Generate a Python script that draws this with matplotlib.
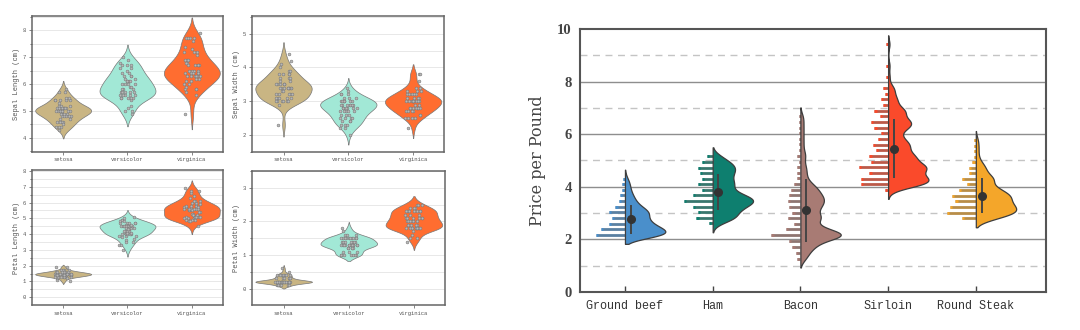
import numpy as np
import pandas as pd
import matplotlib
matplotlib.use("Agg")
import matplotlib.pyplot as plt
import seaborn as sns
from matplotlib.ticker import MultipleLocator

# ---------------- iris data (left panels) ----------------
species = ["setosa", "versicolor", "virginica"]

sl_setosa = [5.1,4.9,4.7,4.6,5.0,5.4,4.6,5.0,4.4,4.9,5.4,4.8,4.8,4.3,5.8,5.7,5.4,5.1,5.7,5.1,5.4,5.1,4.6,5.1,4.8,
             5.0,5.0,5.2,5.2,4.7,4.8,5.4,5.2,5.5,4.9,5.0,5.5,4.9,4.4,5.1,5.0,4.5,4.4,5.0,5.1,4.8,5.1,4.6,5.3,5.0]
sw_setosa = [3.5,3.0,3.2,3.1,3.6,3.9,3.4,3.4,2.9,3.1,3.7,3.4,3.0,3.0,4.0,4.4,3.9,3.5,3.8,3.8,3.4,3.7,3.6,3.3,3.4,
             3.0,3.4,3.5,3.4,3.2,3.1,3.4,4.1,4.2,3.1,3.2,3.5,3.1,3.0,3.4,3.5,2.3,3.2,3.5,3.8,3.0,3.8,3.2,3.7,3.3]
pl_setosa = [1.4,1.4,1.3,1.5,1.4,1.7,1.4,1.5,1.4,1.5,1.5,1.6,1.4,1.1,1.2,1.5,1.3,1.4,1.7,1.5,1.7,1.5,1.0,1.7,1.9,
             1.6,1.6,1.5,1.4,1.6,1.6,1.5,1.5,1.4,1.5,1.2,1.3,1.5,1.3,1.5,1.3,1.3,1.3,1.6,1.9,1.4,1.6,1.4,1.5,1.4]
pw_setosa = [0.2,0.2,0.2,0.2,0.2,0.4,0.3,0.2,0.2,0.1,0.2,0.2,0.1,0.1,0.2,0.4,0.4,0.3,0.3,0.3,0.2,0.4,0.2,0.5,0.2,
             0.2,0.4,0.2,0.2,0.2,0.2,0.4,0.1,0.2,0.1,0.2,0.2,0.1,0.2,0.2,0.3,0.3,0.2,0.6,0.4,0.3,0.2,0.2,0.2,0.2]

sl_versicolor = [7.0,6.4,6.9,5.5,6.5,5.7,6.3,4.9,6.6,5.2,5.0,5.9,6.0,6.1,5.6,6.7,5.6,5.8,6.2,5.6,5.9,6.1,6.3,6.1,6.4,
                 6.6,6.8,6.7,6.0,5.7,5.5,5.5,5.8,6.0,5.4,6.0,6.7,6.3,5.6,5.5,5.5,6.1,5.8,5.0,5.6,5.7,5.7,6.2,5.1,5.7]
sw_versicolor = [3.2,3.2,3.1,2.3,2.8,2.8,3.3,2.4,2.9,2.7,2.0,3.0,2.2,2.9,2.9,3.1,3.0,2.7,2.2,2.5,3.2,2.8,2.5,2.8,2.9,
                 3.0,2.8,3.0,2.9,2.6,2.4,2.4,2.7,2.7,3.0,3.4,3.1,2.3,3.0,2.5,2.6,3.0,2.6,2.3,2.7,3.0,2.9,2.9,2.5,2.8]
pl_versicolor = [4.7,4.5,4.9,4.0,4.6,4.5,4.7,3.3,4.6,3.9,3.5,4.2,4.0,4.7,3.6,4.4,4.5,4.1,4.5,3.9,4.8,4.0,4.9,4.7,4.3,
                 4.4,4.8,5.0,4.5,3.5,3.8,3.7,3.9,5.1,4.5,4.5,4.7,4.4,4.1,4.0,4.4,4.6,4.0,3.3,4.2,4.2,4.2,4.3,3.0,4.1]
pw_versicolor = [1.4,1.5,1.5,1.3,1.5,1.3,1.6,1.0,1.3,1.4,1.0,1.5,1.0,1.4,1.3,1.4,1.5,1.0,1.5,1.1,1.8,1.3,1.5,1.2,1.3,
                 1.4,1.4,1.7,1.5,1.0,1.1,1.0,1.2,1.6,1.5,1.6,1.5,1.3,1.3,1.3,1.2,1.4,1.2,1.0,1.3,1.2,1.3,1.3,1.1,1.3]

sl_virginica = [6.3,5.8,7.1,6.3,6.5,7.6,4.9,7.3,6.7,7.2,6.5,6.4,6.8,5.7,5.8,6.4,6.5,7.7,7.7,6.0,6.9,5.6,7.7,6.3,6.7,
                7.2,6.2,6.1,6.4,7.2,7.4,7.9,6.4,6.3,6.1,7.7,6.3,6.4,6.0,6.9,6.7,6.9,5.8,6.8,6.7,6.7,6.3,6.5,6.2,5.9]
sw_virginica = [3.3,2.7,3.0,2.9,3.0,3.0,2.5,2.9,2.5,3.6,3.2,2.7,3.0,2.5,2.8,3.2,3.0,3.8,2.6,2.2,3.2,2.8,2.8,2.7,3.3,
                3.2,2.8,3.0,2.8,3.0,2.8,3.8,2.8,2.8,2.6,3.0,3.4,3.1,3.0,3.1,3.1,3.1,2.7,3.2,3.3,3.0,2.5,3.0,3.4,3.0]
pl_virginica = [6.0,5.1,5.9,5.6,5.8,6.6,4.5,6.3,5.8,6.1,5.1,5.3,5.5,5.0,5.1,5.3,5.5,6.7,6.9,5.0,5.7,4.9,6.7,4.9,5.7,
                6.0,4.8,4.9,5.6,5.8,6.1,6.4,5.6,5.1,5.6,6.1,5.6,5.5,4.8,5.4,5.6,5.1,5.1,5.9,5.7,5.2,5.0,5.2,5.4,5.1]
pw_virginica = [2.5,1.9,2.1,1.8,2.2,2.1,1.7,1.8,1.8,2.5,2.0,1.9,2.1,2.0,2.4,2.3,1.8,2.2,2.3,1.5,2.3,2.0,2.0,1.8,2.1,
                1.8,1.8,1.8,2.1,1.6,1.9,2.0,2.2,1.5,1.4,2.3,2.4,1.8,1.8,2.1,2.4,2.3,1.9,2.3,2.5,2.3,1.9,2.0,2.3,1.8]

iris_colors = ["#C9B583", "#A2E8D6", "#FF6D30"]

# ---------------- meat prices (right panel) ----------------
meats = ["Ground beef", "Ham", "Bacon", "Sirloin", "Round Steak"]
meat_colors = ["#4A8FCB", "#0E7F6F", "#A87B74", "#FA4A2B", "#F4A62A"]

gb_bins = [2.17, 2.38, 2.60, 2.81, 3.03, 3.24, 3.46, 3.67, 3.88, 4.10, 4.31]
gb_counts = [18, 15, 10, 8, 10, 6, 4, 3, 2, 2, 1]

ham_bins = [2.61, 2.81, 3.03, 3.24, 3.46, 3.67, 3.88, 4.10, 4.31, 4.52, 4.73, 4.94, 5.16]
ham_counts = [2, 9, 8, 11, 16, 11, 6, 8, 6, 7, 8, 6, 3]

bacon_bins = [1.27, 1.49, 1.72, 1.94, 2.16, 2.38, 2.59, 2.81, 3.02, 3.24, 3.46, 3.67, 3.89,
              4.10, 4.32, 4.53, 4.75, 4.96, 5.18, 5.39, 5.61, 5.82, 6.04, 6.25, 6.47, 6.68]
bacon_counts = [2, 3, 5, 7, 18, 9, 4, 8, 5, 7, 8, 7, 6, 4, 2, 2, 2, 1, 2, 1, 1, 1, 1, 1, 1, 1]

sirloin_bins = [3.88, 4.10, 4.31, 4.53, 4.74, 4.96, 5.17, 5.39, 5.60, 5.82, 6.03, 6.25, 6.46,
                6.68, 6.89, 7.11, 7.32, 7.54, 7.75, 8.18, 8.61, 9.42]
sirloin_counts = [2, 16, 16, 11, 17, 10, 11, 7, 9, 6, 4, 8, 10, 5, 8, 3, 4, 2, 3, 1, 1, 1]

round_bins = [2.80, 3.02, 3.24, 3.45, 3.66, 3.88, 4.09, 4.30, 4.51, 4.73, 4.93, 5.14, 5.36, 5.56, 5.78]
round_counts = [8, 17, 15, 12, 14, 10, 5, 8, 4, 4, 2, 1, 1, 1, 1]

fig = plt.figure(figsize=(10.8, 3.3), dpi=100)

# ---------------- left: 2x2 iris violins ----------------
rows = []
for sp, sl, sw, pl, pw in zip(species,
                               [sl_setosa, sl_versicolor, sl_virginica],
                               [sw_setosa, sw_versicolor, sw_virginica],
                               [pl_setosa, pl_versicolor, pl_virginica],
                               [pw_setosa, pw_versicolor, pw_virginica]):
    for a, b, c, d in zip(sl, sw, pl, pw):
        rows.append((sp, a, b, c, d))
iris = pd.DataFrame(rows, columns=["species", "sl", "sw", "pl", "pw"])

panels = [
    ("sl", "Sepal Length (cm)", [0.0293, 0.540, 0.1769, 0.411], (3.48, 8.53)),
    ("sw", "Sepal Width (cm)", [0.2331, 0.540, 0.1782, 0.411], (1.5, 5.52)),
    ("pl", "Petal Length (cm)", [0.0293, 0.0758, 0.1769, 0.409], (-0.49, 8.06)),
    ("pw", "Petal Width (cm)", [0.2331, 0.0758, 0.1791, 0.406], (-0.49, 3.5)),
]
mono = "Liberation Mono"
np.random.seed(3)  # jitter only
for col, label, pos, ylim in panels:
    ax = fig.add_axes(pos)
    sns.violinplot(data=iris, x="species", y=col, hue="species", palette=iris_colors,
                   saturation=1, density_norm="width", width=0.87, inner=None,
                   linewidth=0.5, linecolor="#777777", legend=False, ax=ax)
    sns.stripplot(data=iris, x="species", y=col, color="#b8b8b8", edgecolor="#7a7a7a",
                  linewidth=0.4, size=2.0, jitter=0.13, ax=ax)
    ax.set_ylim(*ylim)
    ax.set_xlim(-0.49, 2.48)
    ax.yaxis.set_major_locator(MultipleLocator(1))
    ax.yaxis.set_minor_locator(MultipleLocator(0.5))
    ax.grid(axis="y", which="both", color="#e4e4e4", lw=0.6)
    ax.set_axisbelow(True)
    ax.set_xlabel("")
    ax.set_ylabel(label, fontsize=5, family=mono, color="#555555", labelpad=2)
    ax.tick_params(labelsize=4, colors="#555555", length=2, width=0.5, pad=2)
    ax.tick_params(which="minor", length=1.2, width=0.4)
    for t in ax.get_xticklabels() + ax.get_yticklabels():
        t.set_family(mono)
    for s in ax.spines.values():
        s.set_color("#666666")
        s.set_linewidth(1.1)

# ---------------- right: half violins with histograms ----------------
ax = fig.add_axes([0.5370, 0.1152, 0.4315, 0.797])
bw = 0.17
max_half = 0.46
max_bar = 0.33
groups = [(gb_bins, gb_counts), (ham_bins, ham_counts), (bacon_bins, bacon_counts),
          (sirloin_bins, sirloin_counts), (round_bins, round_counts)]
gray = np.array([0.43, 0.43, 0.43])
for i, ((bins, counts), c) in enumerate(zip(groups, meat_colors)):
    b = np.array(bins)
    w = np.array(counts, dtype=float)
    y = np.linspace(b.min() - 2 * bw, b.max() + 2 * bw, 400)
    dens = (w[:, None] * np.exp(-0.5 * ((y[None, :] - b[:, None]) / bw) ** 2)).sum(0)
    dens = dens / dens.max() * max_half
    ax.fill_betweenx(y, i, i + dens, facecolor=c, edgecolor="#3d3d3d", lw=0.9, zorder=3)

    rgb = np.array(matplotlib.colors.to_rgb(c))
    bar_col = 0.55 * rgb + 0.45 * gray
    left = i - w / w.max() * max_bar
    ax.hlines(b, left, i, color=bar_col, lw=2.0, zorder=2)
    ax.hlines(b, left, left + 0.025, color=c, lw=2.0, zorder=2)

    m = np.average(b, weights=w)
    sd = np.sqrt(np.average((b - m) ** 2, weights=w))
    ax.vlines(i + 0.065, m - sd, m + sd, color="#444444", lw=1.4, zorder=4)
    ax.plot(i + 0.065, m, "o", color="#333333", ms=5.5, zorder=5)

for v in [2, 4, 6, 8]:
    ax.axhline(v, color="#8e8e8e", lw=1.0, zorder=0)
for v in [1, 3, 5, 7, 9]:
    ax.axhline(v, color="#c4c4c4", lw=1.0, ls=(0, (5, 4)), zorder=0)

ax.set_xlim(-0.513, 4.80)
ax.set_ylim(0, 10)
ax.set_xticks(range(len(meats)))
ax.set_xticklabels(meats, family=mono, fontsize=8.5, color="#333333")
ax.set_yticks([0, 2, 4, 6, 8, 10])
for t in ax.get_yticklabels():
    t.set_family("Liberation Serif")
    t.set_fontweight("bold")
    t.set_fontsize(10.5)
    t.set_color("#444444")
ax.tick_params(axis="x", direction="in", length=4, width=1, color="#444444", pad=6)
ax.tick_params(axis="y", length=0, pad=6)
ax.set_ylabel("Price per Pound", family="DejaVu Serif", fontsize=11.5, color="#444444", labelpad=8)
for s in ax.spines.values():
    s.set_color("#555555")
    s.set_linewidth(1.5)

fig.savefig("out.png", dpi=100)
